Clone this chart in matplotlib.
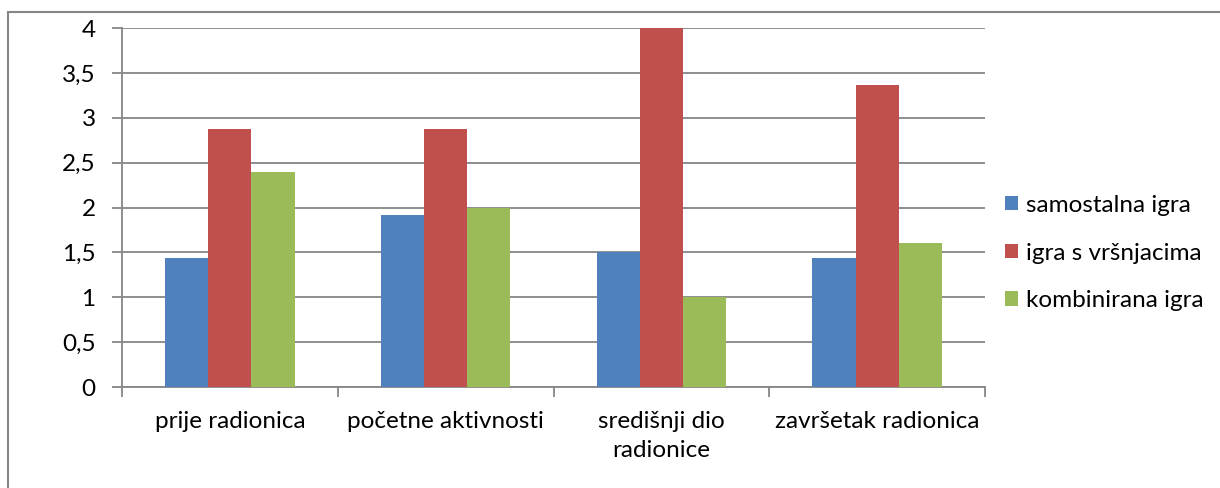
import numpy as np
import matplotlib.pyplot as plt
from matplotlib.patches import Rectangle

categories = ['prije radionica', 'početne aktivnosti', 'središnji dio\nradionice', 'završetak radionica']
series = ['samostalna igra', 'igra s vršnjacima', 'kombinirana igra']
samostalna = [1.44, 1.92, 1.5, 1.44]
vrsnjaci = [2.88, 2.88, 4.0, 3.36]
kombinirana = [2.4, 2.0, 1.0, 1.6]
yticks = [0, 0.5, 1, 1.5, 2, 2.5, 3, 3.5, 4]
ytick_labels = ['0', '0,5', '1', '1,5', '2', '2,5', '3', '3,5', '4']

colors = ['#4F81BD', '#C0504D', '#9BBB59']
grid_c = '#868686'
fs = 17.5

plt.rcParams['font.family'] = ['Lato', 'DejaVu Sans']

W, H = 1220, 488
fig = plt.figure(figsize=(W / 100, H / 100), dpi=100)
ax = fig.add_axes([122 / W, 1 - 387 / H, (985 - 122) / W, (387 - 28) / H])

# outer chart border (only left/top visible)
fig.patches.append(Rectangle((8 / W, -0.1), 1.2, 1 - 12 / H + 0.1, transform=fig.transFigure,
                             fill=False, edgecolor=grid_c, linewidth=1.5))

x = np.arange(len(categories))
wid = 0.2
for i, (name, vals) in enumerate(zip(series, [samostalna, vrsnjaci, kombinirana])):
    ax.bar(x + wid * (i - 1), vals, width=wid, color=colors[i], label=name, zorder=3)

ax.set_xlim(-0.5, len(categories) - 0.5)
ax.set_ylim(0, 4)
ax.set_yticks(yticks)
ax.set_yticklabels(ytick_labels, fontsize=fs)
ax.set_xticks(x)
ax.set_xticklabels(categories, fontsize=fs, linespacing=1.5)
ax.set_xticks(np.arange(-0.5, len(categories)), minor=True)
ax.tick_params(axis='x', which='major', length=0, pad=17)
ax.tick_params(axis='x', which='minor', length=7, width=1.3, color=grid_c)
ax.tick_params(axis='y', length=7, width=1.3, color=grid_c, pad=12)
ax.yaxis.grid(True, color=grid_c, linewidth=1.3, zorder=0)
for s in ['top', 'right']:
    ax.spines[s].set_visible(False)
for s in ['left', 'bottom']:
    ax.spines[s].set_color(grid_c)
    ax.spines[s].set_linewidth(1.3)

ax.legend(loc='center left', bbox_to_anchor=(983 / W, 1 - 253 / H), bbox_transform=fig.transFigure,
          frameon=False, fontsize=fs, handlelength=0.55, handleheight=0.55, handletextpad=0.3,
          labelspacing=1.1)

fig.savefig('out.png', dpi=100)
